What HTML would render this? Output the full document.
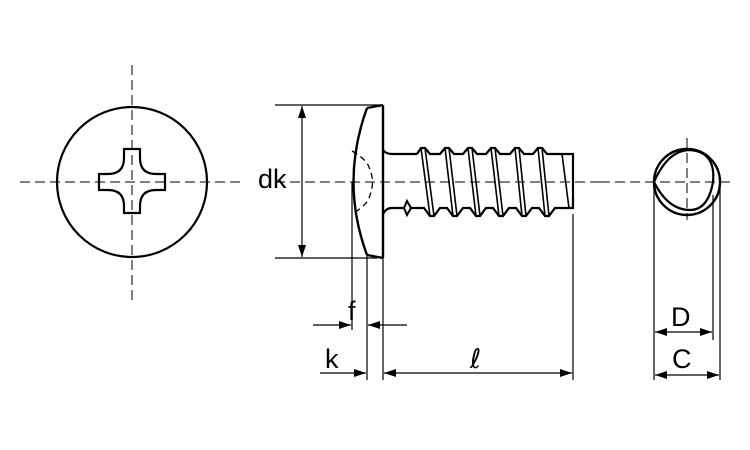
<!DOCTYPE html>
<html><head><style>body{margin:0;background:#fff}svg{display:block}</style></head><body>
<svg width="750" height="450" viewBox="0 0 750 450" xmlns="http://www.w3.org/2000/svg" font-family="Liberation Sans, sans-serif">
<defs>
<marker id="a" markerWidth="12" markerHeight="8" refX="12" refY="4" orient="auto" markerUnits="userSpaceOnUse"><path d="M0,0 L12,4 L0,8 z" fill="#000"/></marker>
</defs>
<g fill="none" stroke="#000">
<!-- left view -->
<circle cx="132" cy="182" r="75" stroke-width="2.2"/>
<path d="M124,149 H140 V158 Q140,174 156,174 H165 V190 H156 Q140,190 140,206 V213 H124 V206 Q124,190 108,190 H99 V174 H108 Q124,174 124,158 Z" stroke-width="2.2"/>
<line x1="20" y1="182" x2="245" y2="182" stroke-width="1" stroke-dasharray="10,5"/>
<line x1="132" y1="65" x2="132" y2="300" stroke-width="1" stroke-dasharray="10,5"/>
<!-- side view head -->
<path d="M383,105 L383,258 M367,108 L383,105 M367,255 L383,258 M367,108 Q340,182 367,255" stroke-width="2.4"/>
<path d="M352,151 Q368,160 370,170 Q375,182 370,195 Q368,205 352,214" stroke-width="1.3" stroke-dasharray="6,4"/>
<!-- shank -->
<path d="M383,150 Q386,154 392,154 H417 M383,214 Q386,208 392,208 H403" stroke-width="2.2"/>
<path d="M404,208 L407,201 L411,208 L407,215 Z" stroke-width="2"/>
<!-- thread -->
<path d="M417,154 L421,148 L425,148 L430,154 L440,154 L445,148 L449,148 L454,154 L463,154 L468,148 L472,148 L477,154 L486,154 L491,148 L495,148 L500,154 L510,154 L515,148 L519,148 L524,154 L533,154 L538,148 L542,148 L547,154 L573,154 L573,208 L555,208 L549,216 L545,216 L539,208 L532,208 L526,216 L522,216 L516,208 L509,208 L503,216 L499,216 L493,208 L486,208 L480,216 L476,216 L470,208 L463,208 L457,216 L453,216 L447,208 L440,208 L434,216 L430,216 L424,208 L411,208" stroke-width="2.2"/>
<g stroke-width="1.6">
<path d="M421,148 L430,216 M425,148 L434,216 M445,148 L453,216 M449,148 L457,216 M468,148 L476,216 M472,148 L480,216 M491,148 L499,216 M495,148 L503,216 M515,148 L522,216 M519,148 L526,216 M538,148 L545,216 M542,148 L549,216 M562,154 L569,208"/>
</g>
<line x1="275" y1="182" x2="610" y2="182" stroke-width="1" stroke-dasharray="10,5"/>
<!-- dims -->
<g stroke-width="1.2">
<line x1="275" y1="105" x2="380" y2="105"/>
<line x1="275" y1="258" x2="377" y2="258"/>
<line x1="302" y1="120" x2="302" y2="243"/>
<line x1="302" y1="120" x2="302" y2="106" marker-end="url(#a)"/>
<line x1="302" y1="243" x2="302" y2="257" marker-end="url(#a)"/>
<line x1="352" y1="182" x2="352" y2="330"/>
<line x1="367" y1="255" x2="367" y2="380"/>
<line x1="383" y1="258" x2="383" y2="380"/>
<line x1="573" y1="214" x2="573" y2="380"/>
<line x1="313" y1="325" x2="351" y2="325" marker-end="url(#a)"/>
<line x1="407" y1="325" x2="368" y2="325" marker-end="url(#a)"/>
<line x1="320" y1="373" x2="366" y2="373" marker-end="url(#a)"/>
<line x1="478" y1="373" x2="384" y2="373" marker-end="url(#a)"/>
<line x1="478" y1="373" x2="572" y2="373" marker-end="url(#a)"/>
</g>
<!-- right view -->
<circle cx="687" cy="182" r="33" stroke-width="2.4"/>
<path d="M654,182 Q668,150 690,150 Q716,152 713,182 Q708,210 690,210 Q668,210 654,182 Z" stroke-width="2.2"/>
<line x1="600" y1="182" x2="735" y2="182" stroke-width="1" stroke-dasharray="10,5"/>
<line x1="687" y1="138" x2="687" y2="220" stroke-width="1" stroke-dasharray="10,5"/>
<g stroke-width="1.2">
<line x1="654" y1="182" x2="654" y2="380"/>
<line x1="720" y1="182" x2="720" y2="380"/>
<line x1="713" y1="195" x2="713" y2="340"/>
<line x1="684" y1="332" x2="655" y2="332" marker-end="url(#a)"/>
<line x1="684" y1="332" x2="712" y2="332" marker-end="url(#a)"/>
<line x1="687" y1="375" x2="655" y2="375" marker-end="url(#a)"/>
<line x1="687" y1="375" x2="719" y2="375" marker-end="url(#a)"/>
</g>
</g>
<g font-size="27" fill="#000">
<text x="258" y="188">dk</text>
<text x="348" y="320">f</text>
<text x="325" y="368">k</text>
<text x="470" y="368" font-family="DejaVu Sans, sans-serif">ℓ</text>
<text x="671" y="326">D</text>
<text x="672" y="368">C</text>
</g>
</svg>
</body></html>
